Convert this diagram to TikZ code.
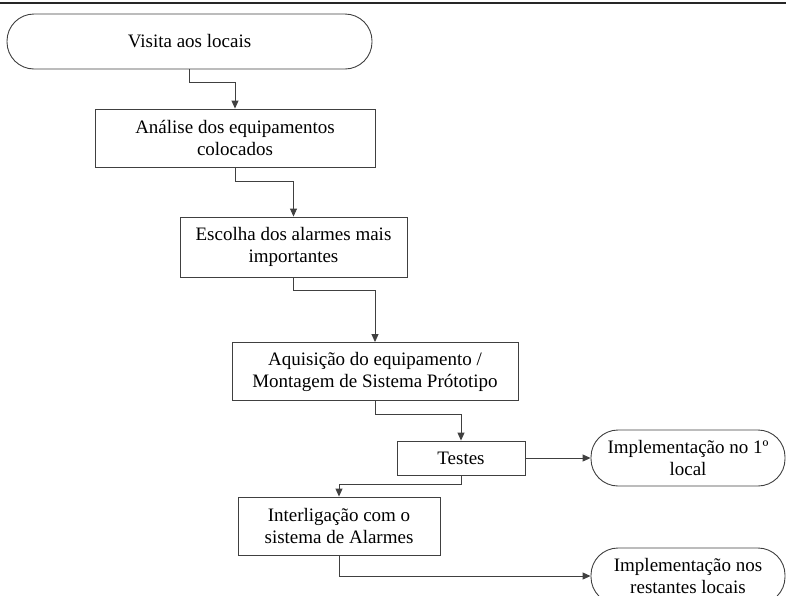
\documentclass[tikz,border=0pt]{standalone}
\usepackage{fontspec}
\setmainfont{Liberation Serif}
\usetikzlibrary{arrows.meta}
\definecolor{ln}{HTML}{404040}
\tikzset{
  box/.style={draw=ln, line width=0.9pt, rectangle, align=center, inner sep=0pt,
    font=\fontsize{19}{22}\selectfont},
  term/.style={box, rounded corners=27pt},
  conn/.style={draw=ln, line width=0.9pt, -{Triangle[length=8pt,width=7pt]}},
}
\begin{document}
\begin{tikzpicture}[x=1pt,y=-1pt]
\useasboundingbox (0,0) rectangle (786,595);
\coordinate (tl) at (0,3);
\coordinate (tr) at (786,3);
\draw[line width=2.4pt, black!85] (tl) -- (tr);

\node[term, minimum width=365pt, minimum height=55pt] (visita) at (189.5,41.5) {Visita aos locais};
\node[box, minimum width=280pt, minimum height=58pt] (analise) at (235,138) {Análise dos equipamentos\\colocados};
\node[box, minimum width=227pt, minimum height=60pt] (escolha) at (293.5,247) {Escolha dos alarmes mais\\importantes};
\node[box, minimum width=286pt, minimum height=58pt] (aquis) at (375,371.5) {Aquisição do equipamento /\\Montagem de Sistema Prótotipo};
\node[box, minimum width=128pt, minimum height=34pt] (testes) at (461,458) {Testes};
\node[term, minimum width=194pt, minimum height=56pt] (impl1) at (688,458) {Implementação no 1º\\local};
\node[box, minimum width=202pt, minimum height=58pt] (inter) at (339,526) {Interligação com o\\sistema de Alarmes};
\node[term, minimum width=194pt, minimum height=56pt] (impl2) at (688,576) {Implementação nos\\restantes locais};

\draw[conn] (visita.south) -- ++(0,13) -| (analise.north);
\draw[conn] (analise.south) -- ++(0,14) -| (escolha.north);
\draw[conn] (escolha.south) -- ++(0,13) -| (aquis.north);
\draw[conn] (aquis.south) -- ++(0,13.5) -| (testes.north);
\draw[conn] (testes.east) -- (impl1.west);
\draw[conn] (testes.south) -- ++(0,9) -| (inter.north);
\draw[conn] (inter.south) |- (impl2.west);
\end{tikzpicture}
\end{document}
